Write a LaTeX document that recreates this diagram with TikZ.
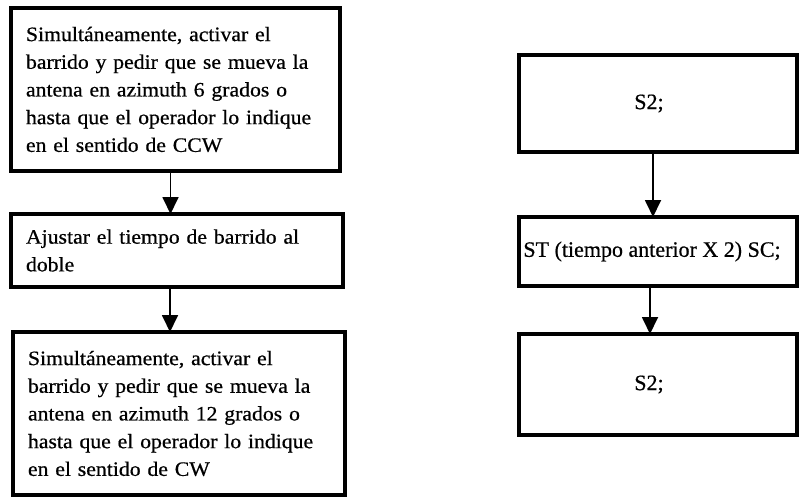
\documentclass[tikz,border=0pt]{standalone}
\usepackage{fontspec}
\setmainfont{Liberation Serif}
\newfontfamily\leftfont[FakeStretch=1.06,FakeBold=0.6]{Liberation Serif}
\newfontfamily\rightfont[FakeBold=0.6]{Liberation Serif}
\usetikzlibrary{arrows.meta}
\begin{document}
\begin{tikzpicture}[x=1pt,y=-1pt,
  box/.style={draw=black, line width=4.5pt, fill=white, outer sep=0pt, anchor=north west},
  lbox/.style={box, inner xsep=15pt, inner ysep=4pt, align=left,
    font=\leftfont\fontsize{20.5}{27.7}\selectfont},
  rbox/.style={box, inner sep=2pt, align=center,
    font=\rightfont\fontsize{22}{26}\selectfont},
  conn/.style={line width=1.8pt, -{Triangle[width=16pt,length=17pt]}}]
\useasboundingbox (0,0) rectangle (799,500);
% left column
\node[lbox, minimum width=329, minimum height=163, text width=299] (A) at (11,8)
 {Simultáneamente, activar el\\ barrido y pedir que se mueva la\\ antena en azimuth 6 grados o\\ hasta que el operador lo indique\\ en el sentido de CCW};
\node[lbox, minimum width=332, minimum height=73, text width=302] (B) at (11,214)
 {Ajustar el tiempo de barrido al\\ doble};
\node[lbox, minimum width=332, minimum height=163, text width=302] (C) at (13,332)
 {Simultáneamente, activar el\\ barrido y pedir que se mueva la\\ antena en azimuth 12 grados o\\ hasta que el operador lo indique\\ en el sentido de CW\\[4pt]};
% right column
\node[rbox, minimum width=278, minimum height=97] (D) at (519,55) {S2;\hspace*{18pt}};
\node[rbox, minimum width=278, minimum height=69] (E) at (519,217) {ST (tiempo anterior X 2) SC;\hspace*{12pt}};
\node[rbox, minimum width=278, minimum height=101] (F) at (519,334) {S2;\hspace*{18pt}};
% connectors
\draw[conn] ([xshift=-5pt]A.south) -- ([xshift=-5pt]A.south |- B.north);
\draw[conn] ([xshift=-7pt]B.south) -- ([xshift=-7pt]B.south |- C.north);
\draw[conn] ([xshift=-5pt]D.south) -- ([xshift=-5pt]D.south |- E.north);
\draw[conn] ([xshift=-8pt]E.south) -- ([xshift=-8pt]E.south |- F.north);
\end{tikzpicture}
\end{document}
